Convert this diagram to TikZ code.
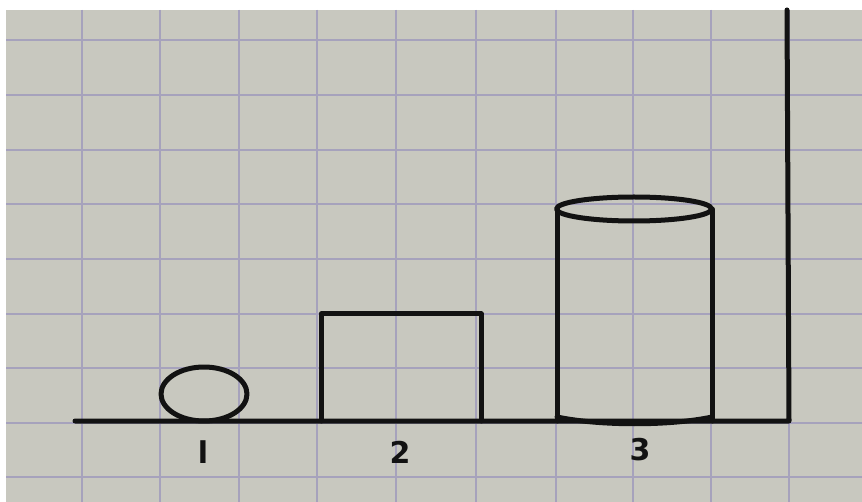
\documentclass[tikz,border=0pt]{standalone}
\usepackage{fontspec}
\setsansfont{DejaVu Sans}
\definecolor{paper}{RGB}{200,200,191}
\definecolor{gridc}{RGB}{166,162,188}
\definecolor{ink}{RGB}{18,18,18}
\tikzset{
  ink/.style={draw=ink, line width=5pt, line cap=round, line join=round},
  gridline/.style={draw=gridc, line width=2.4pt},
  digit/.style={font=\sffamily\bfseries\fontsize{30}{30}\selectfont, text=ink, inner sep=0pt}
}
\begin{document}
\begin{tikzpicture}[x=1pt,y=-1pt]
\useasboundingbox (0,0) rectangle (862,502);
\fill[white] (0,0) rectangle (862,502);
\fill[paper] (6,10) rectangle (862,502);
% grid
\foreach \gx in {82,160,239,317,396,476,556,633,711,789} {
  \draw[gridline] (\gx,10) -- (\gx,502);
}
\foreach \gy in {40,95,150,204,259,314,368,423,477} {
  \draw[gridline] (6,\gy) -- (862,\gy);
}
% baseline and right wall
\draw[ink] (75,421) -- (789,421) -- (787,10);
% 1: ball
\draw[ink] (204,394) ellipse [x radius=43, y radius=27];
% 2: box
\draw[ink] (321,421) -- (321,314) -- (481,314) -- (481,421);
% 3: cylinder
\draw[ink] (557,421) -- (557,209);
\draw[ink] (712,421) -- (712,209);
\draw[ink] (634,209) ellipse [x radius=77.5, y radius=12];
\draw[ink] (557,417) .. controls (600,426) and (670,426) .. (712,417);
% labels
\node[digit] (l1) at (203,452) {l};
\node[digit] (l2) at (400,452) {2};
\node[digit] (l3) at (640,450) {3};
\end{tikzpicture}
\end{document}
